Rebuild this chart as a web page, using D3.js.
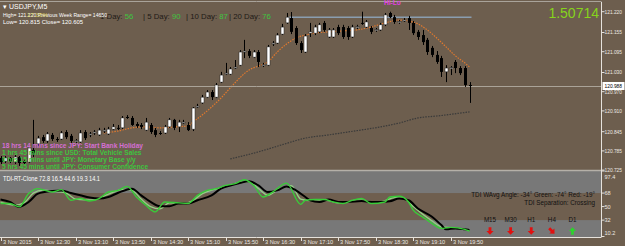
<!DOCTYPE html>
<html>
<head>
<meta charset="UTF-8">
<title>USDJPY M5</title>
<script src="https://d3js.org/d3.v7.min.js"></script>
<style>
  body { margin: 0; background: #6d5e4e; overflow: hidden; }
  svg { display: block; font-family: "Liberation Sans", Arial, sans-serif; }
</style>
</head>
<body>
<svg width="625" height="246"></svg>
<script>
// bars, M5, 11:50 .. 20:10
const opens = [120.763,120.753,120.763,120.750,120.766,120.753,120.750,120.788,120.807,120.828,
  120.816,120.835,120.822,120.822,120.844,120.832,120.816,120.813,120.844,120.835,
  120.841,120.835,120.847,120.838,120.853,120.857,120.857,120.891,120.888,120.869,
  120.866,120.850,120.866,120.850,120.841,120.841,120.860,120.882,120.860,120.872,
  120.866,120.853,120.922,120.935,120.953,120.969,120.953,121.000,121.025,121.025,
  121.044,121.053,121.094,121.097,121.078,121.094,121.053,121.053,121.119,121.122,
  121.150,121.185,121.200,121.169,121.122,121.094,121.153,121.153,121.157,121.185,
  121.141,121.141,121.172,121.172,121.169,121.141,121.172,121.185,121.172,121.169,
  121.163,121.163,121.179,121.216,121.203,121.188,121.191,121.200,121.185,121.157,
  121.147,121.132,121.107,121.085,121.075,121.032,121.044,121.063,121.044,121.044,
  120.991];
const closes = [120.750,120.763,120.753,120.766,120.747,120.747,120.794,120.778,120.825,120.816,
  120.838,120.822,120.819,120.841,120.828,120.816,120.817,120.841,120.825,120.838,
  120.844,120.850,120.850,120.853,120.860,120.857,120.888,120.891,120.866,120.863,
  120.860,120.875,120.844,120.835,120.838,120.860,120.882,120.857,120.875,120.875,
  120.850,120.919,120.925,120.953,120.969,120.953,120.991,121.022,121.028,121.041,
  121.047,121.094,121.097,121.082,121.094,121.063,121.054,121.110,121.122,121.147,
  121.172,121.203,121.157,121.122,121.100,121.144,121.157,121.172,121.179,121.163,
  121.163,121.163,121.153,121.141,121.141,121.172,121.173,121.185,121.188,121.157,
  121.164,121.179,121.210,121.203,121.188,121.189,121.194,121.185,121.153,121.141,
  121.125,121.094,121.085,121.063,121.032,121.044,121.045,121.044,121.028,120.991,
  120.988];
const highs = [120.769,120.769,120.766,120.772,120.769,120.757,120.800,120.882,120.832,120.835,
  120.844,120.841,120.828,120.847,120.850,120.838,120.822,120.850,120.850,120.844,
  120.850,120.857,120.857,120.860,120.869,120.866,120.894,120.897,120.894,120.875,
  120.872,120.888,120.872,120.857,120.847,120.866,120.888,120.885,120.882,120.882,
  120.875,120.922,120.932,120.960,120.975,120.975,120.997,121.032,121.060,121.047,
  121.069,121.100,121.132,121.103,121.100,121.100,121.060,121.116,121.128,121.153,
  121.182,121.216,121.219,121.175,121.128,121.150,121.185,121.179,121.185,121.191,
  121.169,121.169,121.179,121.179,121.175,121.179,121.179,121.220,121.194,121.175,
  121.169,121.185,121.216,121.220,121.210,121.194,121.200,121.207,121.191,121.163,
  121.163,121.138,121.113,121.097,121.082,121.053,121.050,121.069,121.050,121.050,
  121.000];
const lows = [120.744,120.747,120.747,120.744,120.738,120.741,120.747,120.766,120.800,120.810,
  120.810,120.816,120.813,120.819,120.822,120.810,120.810,120.810,120.819,120.828,
  120.835,120.832,120.841,120.835,120.850,120.850,120.853,120.885,120.863,120.857,
  120.853,120.847,120.838,120.828,120.835,120.838,120.857,120.850,120.844,120.869,
  120.847,120.847,120.919,120.932,120.950,120.944,120.950,120.997,121.022,121.022,
  121.041,121.050,121.075,121.075,121.075,121.047,121.047,121.050,121.113,121.119,
  121.147,121.182,121.150,121.116,121.091,121.091,121.141,121.147,121.153,121.157,
  121.138,121.138,121.147,121.135,121.132,121.138,121.166,121.179,121.169,121.150,
  121.157,121.160,121.175,121.200,121.182,121.182,121.188,121.163,121.147,121.132,
  121.116,121.085,121.078,121.057,121.016,121.000,121.022,121.028,121.022,120.985,
  120.935];

// moving averages: [bar, price]
const fastMA = [[22,120.841],[25,120.847],[28,120.857],[31,120.860],[34,120.857],[37,120.860],
  [40,120.863],[41,120.875],[43,120.897],[45,120.922],[47,120.950],[49,120.982],[51,121.013],
  [53,121.038],[55,121.050],[57,121.063],[59,121.094],[61,121.119],[63,121.138],[65,121.147],
  [67,121.153],[70,121.157],[73,121.160],[76,121.163],[79,121.172],[82,121.185],[85,121.194],
  [87,121.191],[89,121.182],[91,121.163],[93,121.138],[95,121.110],[97,121.082],[99,121.060],
  [100,121.047]];
const slowMA = [[49,120.760],[55,120.782],[60,120.804],[65,120.825],[70,120.835],[74,120.844],
  [81,120.860],[85,120.872],[89,120.888],[93,120.894],[100,120.907]];

const lastPrice = 120.988;
const hiLevel = 121.203;
const hiLevelBars = [62, 100];

const priceTicks = [121.220,121.155,121.095,121.030,120.970,120.910,120.845,120.785,120.725];
const timeLabels = ["3 Nov 2015","3 Nov 12:30","3 Nov 13:10","3 Nov 13:50","3 Nov 14:30",
  "3 Nov 15:10","3 Nov 15:50","3 Nov 16:30","3 Nov 17:10","3 Nov 17:50","3 Nov 18:30",
  "3 Nov 19:10","3 Nov 19:50"];

// TDI: [bar, value]
const tdiBlack = [[0,59.4],[2,56.2],[4,49.6],[6,56.2],[8,67.3],[11,70.7],[13,71.6],[15,68.1],
  [17,65.0],[19,62.0],[21,60.7],[23,62.8],[25,68.1],[28,73.9],[30,65.0],[32,56.2],[34,50.5],
  [36,50.5],[38,54.1],[40,54.1],[42,58.4],[45,65.0],[47,73.9],[49,78.2],[51,81.3],[53,83.9],
  [55,78.2],[57,69.4],[59,71.6],[61,76.9],[63,71.6],[65,62.8],[66,58.4],[68,56.2],[70,59.4],
  [72,56.2],[74,56.2],[77,57.5],[79,56.2],[81,56.2],[83,57.1],[85,60.7],[87,58.4],[89,47.5],
  [92,36.4],[94,25.4],[95,19.7],[97,21.0],[99,19.7],[100,18.8]];
const tdiGreen = [[0,54.1],[2,54.1],[4,49.6],[6,67.3],[8,73.9],[11,69.4],[13,72.6],[15,58.4],
  [17,60.7],[19,57.5],[21,60.7],[23,69.4],[25,71.6],[27,76.9],[29,62.8],[31,51.8],[33,43.0],
  [35,56.2],[38,54.9],[40,54.1],[42,65.0],[44,71.6],[46,73.9],[48,78.2],[50,80.5],[52,85.8],
  [54,78.2],[56,62.8],[58,69.4],[61,81.3],[64,53.0],[65,58.4],[67,59.4],[69,59.4],[71,56.2],
  [73,54.1],[75,58.4],[77,60.7],[79,54.1],[82,56.2],[83,62.8],[85,63.7],[87,56.2],[88,45.2],
  [90,36.4],[92,27.7],[94,21.0],[96,22.4],[99,19.7],[100,17.5]];
const tdiPale = [[0,56],[3,52],[5,55],[7,68],[9,72],[12,70],[14,68],[16,60],[18,59],[20,59],
  [22,64],[24,69],[26,73],[28,72],[30,60],[32,50],[34,47],[36,55],[39,54],[41,58],[43,67],
  [45,72],[47,75],[49,79],[51,82],[53,83],[55,74],[57,65],[59,72],[62,78],[64,60],[66,58],
  [68,59],[70,58],[72,55],[74,56],[76,59],[78,58],[80,55],[82,58],[84,62],[86,61],[88,50],
  [90,40],[92,31],[94,23],[96,22],[98,21],[100,19]];
const tdiTicks = [97.4, 68, 50, 32, 10.2];
const tdiLevels = [68, 32];

const eventTexts = ["18 hrs 14 mins since JPY: Start Bank Holiday",
  "1 hrs 45 mins since USD: Total Vehicle Sales",
  "0 hrs 15 mins until JPY: Monetary Base y/y",
  "5 hrs 45 mins until JPY: Consumer Confidence"];
const eventColors = ["#d46ed4", "#3fc43f", "#3fc43f", "#3fc43f"];

const tfNames = ["M15", "M30", "H1", "H4", "D1"];
const tfDirs = ["down", "down", "down", "downright", "up"];
const dayLabels = ["1 Day:", "| 5 Day:", "| 10 Day:", "| 20 Day:"];
const dayValues = ["56", "90", "87", "76"];

const svg = d3.select("svg");
const W = 625, axisX = 601.5;
const subTop = 171, subBot = 237;

const x = d3.scaleLinear().domain([0, 100]).range([0.5, 469.5]);
const y = d3.scaleLinear().domain([120.725, 121.220]).range([170.1, 11.7]);
const yt = d3.scaleLinear().domain([10.2, 97.4]).range([236.5, 171]);

// backgrounds
svg.append("rect").attr("width", W).attr("height", 246).attr("fill", "#6d5e4e");
svg.append("rect").attr("x", 0).attr("y", subTop).attr("width", axisX).attr("height", subBot - subTop)
  .attr("fill", "#787878");
svg.append("rect").attr("x", 0).attr("y", yt(tdiLevels[0])).attr("width", axisX)
  .attr("height", yt(tdiLevels[1]) - yt(tdiLevels[0])).attr("fill", "#6f5f4f");
svg.append("line").attr("x1", 0).attr("x2", axisX).attr("y1", 1.5).attr("y2", 1.5)
  .attr("stroke", "#a9a39a");
svg.append("line").attr("x1", 0).attr("x2", axisX).attr("y1", 170.5).attr("y2", 170.5)
  .attr("stroke", "#b5b0a8").attr("stroke-width", 1.5);

// main pane
const main = svg.append("g");

main.append("line")
  .attr("x1", x(hiLevelBars[0]) - 2).attr("x2", x(hiLevelBars[1]) + 2)
  .attr("y1", y(hiLevel)).attr("y2", y(hiLevel))
  .attr("stroke", "#8a9db0").attr("stroke-width", 1.5);

const maLine = d3.line().x(d => x(d[0])).y(d => y(d[1])).curve(d3.curveMonotoneX);
main.append("path").attr("d", maLine(slowMA)).attr("fill", "none")
  .attr("stroke", "#3a3a3a").attr("stroke-width", 1.2).attr("stroke-dasharray", "1.5,1.2");
main.append("path").attr("d", maLine(fastMA)).attr("fill", "none")
  .attr("stroke", "#e0792e").attr("stroke-width", 1.2).attr("stroke-dasharray", "1.5,1.2");

main.append("line").attr("x1", 0).attr("x2", axisX)
  .attr("y1", Math.round(y(lastPrice)) + 0.5).attr("y2", Math.round(y(lastPrice)) + 0.5)
  .attr("stroke", "#aaa398");

const bars = d3.range(opens.length);
main.selectAll(".wick").data(bars).join("line")
  .attr("x1", i => Math.round(x(i)) + 0.5).attr("x2", i => Math.round(x(i)) + 0.5)
  .attr("y1", i => y(highs[i])).attr("y2", i => y(lows[i]))
  .attr("stroke", "#000");
main.selectAll(".body").data(bars).join("rect")
  .attr("x", i => Math.round(x(i)) - 1)
  .attr("y", i => y(Math.max(opens[i], closes[i])))
  .attr("width", 3)
  .attr("height", i => Math.max(1, Math.abs(y(opens[i]) - y(closes[i]))))
  .attr("fill", i => closes[i] > opens[i] ? "#fff" : "#000")
  .attr("stroke", i => closes[i] > opens[i] ? "#222" : "none")
  .attr("stroke-width", 0.5);

// header texts
svg.append("text").attr("x", 3).attr("y", 9).attr("font-size", 7).attr("fill", "#fff")
  .text("\u25BE USDJPY,M5");
const dayX = d3.scaleLinear().domain([0, 3]).range([100, 229]);
dayLabels.forEach((lab, i) => {
  const t = svg.append("text").attr("x", dayX(i)).attr("y", 19).attr("font-size", 7.8);
  t.append("tspan").attr("fill", "#1e1a16").text(lab + " ");
  t.append("tspan").attr("fill", "#3fc43f").text(dayValues[i]);
});
svg.append("text").attr("x", 3).attr("y", 17).attr("font-size", 6.2).attr("fill", "#fff")
  .attr("textLength", 104).attr("lengthAdjust", "spacingAndGlyphs")
  .text("High= 121.220  Previous Week Range= 14650");
svg.append("text").attr("x", 27).attr("y", 17).attr("font-size", 6.2).attr("fill", "#e5dc5a")
  .attr("opacity", 0.85).text("17.35%");
svg.append("text").attr("x", 3).attr("y", 24).attr("font-size", 6.2).attr("fill", "#fff")
  .attr("textLength", 80).attr("lengthAdjust", "spacingAndGlyphs")
  .text("Low= 120.815    Close= 120.605");
svg.append("text").attr("x", 599).attr("y", 18).attr("text-anchor", "end")
  .attr("font-size", 14).attr("fill", "#86d41c").text("1.50714");
svg.append("text").attr("x", 384).attr("y", 5).attr("font-size", 6.5).attr("font-weight", "bold")
  .attr("fill", "#e040e0").text("Hi-Lo");

svg.selectAll(".ev").data(eventTexts).join("text")
  .attr("x", 2).attr("y", (d, i) => 147.5 + i * 7)
  .attr("font-size", 6.6).attr("font-weight", "bold")
  .attr("fill", (d, i) => eventColors[i]).text(d => d);

// TDI pane
const tdiLine = d3.line().x(d => x(d[0])).y(d => yt(d[1])).curve(d3.curveMonotoneX);
svg.append("path").attr("d", tdiLine(tdiPale)).attr("fill", "none")
  .attr("stroke", "#94cf86").attr("stroke-width", 1.3);
svg.append("path").attr("d", tdiLine(tdiBlack)).attr("fill", "none")
  .attr("stroke", "#000").attr("stroke-width", 2);
svg.append("path").attr("d", tdiLine(tdiGreen)).attr("fill", "none")
  .attr("stroke", "#39cc39").attr("stroke-width", 1.4);

svg.append("text").attr("x", 3).attr("y", 181).attr("font-size", 6.3).attr("fill", "#fff")
  .attr("textLength", 97).attr("lengthAdjust", "spacingAndGlyphs")
  .text("TDI-RT-Clone 72.8 16.5 44.6 19.3 14.1");
svg.append("text").attr("x", 595).attr("y", 196.5).attr("text-anchor", "end")
  .attr("font-size", 6.3).attr("fill", "#111")
  .text("TDI WAvg Angle: -34\u00B0  Green: -74\u00B0  Red: -19\u00B0");
svg.append("text").attr("x", 595).attr("y", 204.5).attr("text-anchor", "end")
  .attr("font-size", 6.3).attr("fill", "#111").text("TDI Separation: Crossing");

const tfX = d3.scalePoint().domain(tfNames).range([490, 572.5]);
svg.selectAll(".tf").data(tfNames).join("text")
  .attr("x", d => tfX(d)).attr("y", 221.5).attr("text-anchor", "middle")
  .attr("font-size", 6.3).attr("fill", "#111").text(d => d);
const rot = { down: 0, downright: -45, up: 180 };
svg.selectAll(".arr").data(tfNames).join("path")
  .attr("d", "M-1.4,-3.8 L1.4,-3.8 L1.4,0 L3.6,0 L0,3.8 L-3.6,0 L-1.4,0 Z")
  .attr("transform", (d, i) => `translate(${tfX(d)},231) rotate(${rot[tfDirs[i]]})`)
  .attr("fill", (d, i) => tfDirs[i] === "up" ? "#2ed12e" : "#e01010");

// axes
svg.append("rect").attr("x", axisX + 0.5).attr("y", 0).attr("width", W - axisX).attr("height", 246)
  .attr("fill", "#6d5e4e");
svg.append("rect").attr("x", 0).attr("y", subBot).attr("width", W).attr("height", 246 - subBot)
  .attr("fill", "#6d5e4e");
svg.append("line").attr("x1", axisX).attr("x2", axisX).attr("y1", 2).attr("y2", subBot)
  .attr("stroke", "#e6e2dc");
svg.append("line").attr("x1", 0).attr("x2", axisX).attr("y1", subBot + 0.5).attr("y2", subBot + 0.5)
  .attr("stroke", "#e6e2dc");

const pa = svg.append("g").attr("font-size", 5.6).attr("fill", "#ece8e2");
priceTicks.forEach(p => {
  pa.append("line").attr("x1", axisX).attr("x2", axisX + 3).attr("y1", y(p)).attr("y2", y(p))
    .attr("stroke", "#e6e2dc");
  pa.append("text").attr("x", 604.5).attr("y", y(p)).attr("dy", "0.35em")
    .attr("textLength", 17.5).attr("lengthAdjust", "spacingAndGlyphs").text(p.toFixed(3));
});
const ly = Math.round(y(lastPrice));
svg.append("rect").attr("x", axisX + 1).attr("y", ly - 4).attr("width", 22).attr("height", 8)
  .attr("fill", "#fff");
svg.append("text").attr("x", 604.5).attr("y", ly).attr("dy", "0.35em").attr("font-size", 5.6)
  .attr("textLength", 17.5).attr("lengthAdjust", "spacingAndGlyphs")
  .attr("fill", "#000").text(lastPrice.toFixed(3));

tdiTicks.forEach((v, i) => {
  let ty = yt(v);
  if (i === 0) ty += 6;
  if (i === tdiTicks.length - 1) ty -= 3.5;
  pa.append("line").attr("x1", axisX).attr("x2", axisX + 3).attr("y1", yt(v)).attr("y2", yt(v))
    .attr("stroke", "#e6e2dc");
  pa.append("text").attr("x", 604.5).attr("y", ty).attr("dy", "0.35em").text(v);
});

const ta = svg.append("g").attr("font-size", 5.6).attr("fill", "#ece8e2");
timeLabels.forEach((t, k) => {
  const tx = Math.round(x(k * 8)) + 0.5;
  ta.append("line").attr("x1", tx).attr("x2", tx).attr("y1", subBot).attr("y2", subBot + 4)
    .attr("stroke", "#e6e2dc");
  ta.append("text").attr("x", tx + 1.5).attr("y", 244).text(t);
});
</script>
</body>
</html>
